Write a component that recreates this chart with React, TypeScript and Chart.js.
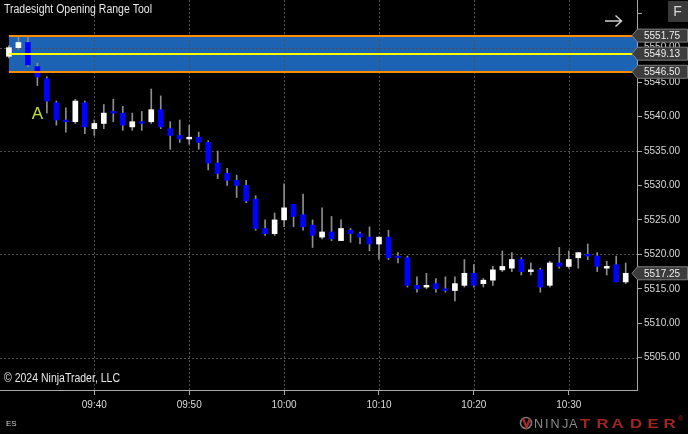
import React, { useEffect, useRef } from "react";
import { Chart, registerables } from "chart.js";
Chart.register(...registerables);

// ---------- data ----------
const times = [
  "09:31","09:32","09:33","09:34","09:35","09:36","09:37","09:38","09:39","09:40",
  "09:41","09:42","09:43","09:44","09:45","09:46","09:47","09:48","09:49","09:50",
  "09:51","09:52","09:53","09:54","09:55","09:56","09:57","09:58","09:59","10:00",
  "10:01","10:02","10:03","10:04","10:05","10:06","10:07","10:08","10:09","10:10",
  "10:11","10:12","10:13","10:14","10:15","10:16","10:17","10:18","10:19","10:20",
  "10:21","10:22","10:23","10:24","10:25","10:26","10:27","10:28","10:29","10:30",
  "10:31","10:32","10:33","10:34","10:35","10:36",
];
const opens = [
  5548.75,5550.0,5550.75,5547.25,5545.5,5542.0,5539.5,5539.25,5542.0,5538.25,
  5539.0,5540.75,5540.5,5538.5,5539.25,5539.25,5541.0,5538.25,5537.25,5536.75,
  5537.0,5536.25,5533.25,5531.75,5530.75,5530.0,5528.0,5523.75,5523.0,5525.0,
  5527.25,5525.75,5524.25,5522.5,5523.25,5522.0,5523.5,5523.0,5522.5,5521.5,
  5522.5,5519.75,5519.5,5515.5,5515.25,5515.75,5515.0,5514.75,5515.5,5517.25,
  5515.75,5516.25,5517.75,5518.0,5519.25,5517.5,5517.75,5515.5,5518.75,5518.25,
  5519.5,5520.0,5519.75,5518.0,5518.5,5516.0,
];
const highs = [
  5550.25,5551.75,5551.75,5547.75,5545.75,5542.25,5541.25,5542.5,5542.25,5539.5,
  5541.75,5542.5,5541.5,5540.5,5540.75,5544.0,5543.0,5539.25,5539.5,5538.75,
  5537.75,5536.5,5535.0,5532.5,5531.5,5530.75,5528.5,5525.0,5526.0,5530.25,
  5527.25,5528.75,5525.0,5526.75,5525.5,5525.0,5523.75,5523.25,5524.0,5522.5,
  5523.5,5520.25,5519.75,5516.75,5517.25,5516.5,5516.75,5516.75,5519.25,5518.5,
  5516.5,5518.25,5520.5,5520.25,5519.5,5518.75,5518.0,5519.0,5521.0,5520.5,
  5520.25,5521.5,5520.25,5519.0,5519.75,5518.75,
];
const lows = [
  5548.5,5549.75,5547.25,5544.5,5540.5,5538.75,5537.75,5539.0,5537.5,5537.25,
  5538.25,5539.25,5538.0,5538.0,5538.0,5539.0,5538.25,5535.25,5536.25,5536.0,
  5535.25,5532.25,5531.0,5530.0,5528.25,5527.5,5523.5,5522.75,5522.75,5524.0,
  5524.0,5523.5,5521.0,5522.25,5522.0,5522.0,5521.75,5521.5,5520.5,5519.25,
  5519.25,5518.75,5515.25,5514.5,5515.0,5514.5,5514.5,5513.25,5515.25,5515.25,
  5515.25,5515.5,5517.5,5517.5,5517.0,5517.0,5514.5,5515.25,5518.0,5518.0,
  5518.0,5519.25,5517.5,5517.0,5516.0,5515.75,
];
const closes = [
  5550.0,5550.75,5547.5,5545.75,5542.25,5539.5,5539.25,5542.25,5538.5,5539.0,
  5540.5,5540.5,5538.75,5539.25,5539.0,5541.0,5538.5,5537.25,5536.75,5537.0,
  5536.25,5533.25,5531.75,5530.75,5530.0,5527.75,5523.75,5523.0,5525.0,5526.75,
  5525.5,5524.0,5522.75,5523.25,5522.25,5523.75,5523.0,5522.5,5521.5,5522.5,
  5519.5,5519.5,5515.5,5515.0,5515.5,5515.0,5514.75,5515.75,5517.25,5515.5,
  5516.25,5517.75,5518.25,5519.25,5517.5,5517.75,5515.25,5518.75,5518.25,5519.25,
  5520.25,5519.75,5518.25,5518.25,5516.0,5517.25,
];
const timeTicks = ["09:40", "09:50", "10:00", "10:10", "10:20", "10:30"];
const priceTicks = [5505, 5510, 5515, 5520, 5525, 5530, 5535, 5540, 5545, 5550, 5555];
const priceLabels = ["5505.00","5510.00","5515.00","5520.00","5525.00","5530.00","5535.00","5540.00","5545.00","5550.00",""];
const gridPrices = [5505, 5520, 5535, 5550];
const rangeHigh = 5551.75;
const rangeMid = 5549.13;
const rangeLow = 5546.5;
const lastPrice = 5517.25;
const titleText = "Tradesight Opening Range Tool";
const copyrightText = "© 2024 NinjaTrader, LLC";
const instrumentText = "ES";
const markerLabel = "A";
const markerTime = "09:34";
const logoLeft = "NINJA";
const logoRight = "TRADER";

const toMin = (s: string) => {
  const [h, m] = s.split(":").map(Number);
  return h * 60 + m - 570;
};
const fmtMin = (v: number) => {
  const t = Math.round(v) + 570;
  const h = Math.floor(t / 60), m = t % 60;
  return String(h).padStart(2, "0") + ":" + String(m).padStart(2, "0");
};

const FONT = "'Liberation Sans', Arial, sans-serif";
const BLUE = "#0000ff";
const WHITE = "#ffffff";

function fitText(ctx: CanvasRenderingContext2D, text: string, x: number, y: number, width: number) {
  const w = ctx.measureText(text).width;
  ctx.save();
  ctx.translate(x, y);
  ctx.scale(width / w, 1);
  ctx.fillText(text, 0, 0);
  ctx.restore();
}

function priceBox(ctx: CanvasRenderingContext2D, axisX: number, yc: number, text: string, canvasW: number) {
  const h = 13;
  const tip = axisX - 5;
  const right = canvasW - 0.5;
  ctx.beginPath();
  ctx.moveTo(tip, yc);
  ctx.lineTo(axisX + 0.5, yc - h / 2);
  ctx.lineTo(right, yc - h / 2);
  ctx.lineTo(right, yc + h / 2);
  ctx.lineTo(axisX + 0.5, yc + h / 2);
  ctx.closePath();
  ctx.fillStyle = "#3c3c3c";
  ctx.fill();
  ctx.strokeStyle = "#7c7c7c";
  ctx.lineWidth = 1;
  ctx.stroke();
  ctx.fillStyle = "#ececec";
  ctx.font = `10px ${FONT}`;
  ctx.textAlign = "left";
  ctx.textBaseline = "middle";
  ctx.fillText(text, axisX + 7, yc + 0.5);
}

const overlayPlugin = {
  id: "overlay",
  beforeDatasetsDraw(chart: any) {
    const { ctx, chartArea: a, scales } = chart;
    const x = scales.x, y = scales.y;
    ctx.save();
    ctx.beginPath();
    ctx.rect(a.left, a.top, a.right - a.left, a.bottom - a.top);
    ctx.clip();
    // opening range band
    const bx = x.getPixelForValue(toMin(times[0]));
    const yt = y.getPixelForValue(rangeHigh);
    const yb = y.getPixelForValue(rangeLow);
    ctx.fillStyle = "#1c63b3";
    ctx.fillRect(bx, yt, a.right - bx, yb - yt);
    // dotted grid
    ctx.lineWidth = 1;
    ctx.setLineDash([2, 2]);
    ctx.strokeStyle = "#4e4e4e";
    for (const t of timeTicks) {
      const px = Math.round(x.getPixelForValue(toMin(t))) + 0.5;
      ctx.beginPath();
      ctx.moveTo(px, a.top);
      ctx.lineTo(px, a.bottom);
      ctx.stroke();
    }
    for (const p of gridPrices) {
      const py = Math.round(y.getPixelForValue(p)) + 0.5;
      ctx.beginPath();
      ctx.moveTo(a.left, py);
      ctx.lineTo(a.right, py);
      ctx.stroke();
    }
    ctx.restore();
  },
  afterDatasetsDraw(chart: any) {
    const { ctx, chartArea: a, scales } = chart;
    const x = scales.x, y = scales.y;
    const bx = x.getPixelForValue(toMin(times[0]));
    ctx.save();
    ctx.lineWidth = 2;
    const hl = (p: number, c: string) => {
      const py = Math.round(y.getPixelForValue(p));
      ctx.strokeStyle = c;
      ctx.beginPath();
      ctx.moveTo(bx, py);
      ctx.lineTo(a.right, py);
      ctx.stroke();
    };
    hl(rangeHigh, "#ff8c00");
    hl(rangeLow, "#ff8c00");
    hl(rangeMid, "#ffff00");
    // marker label
    const mi = times.indexOf(markerTime);
    ctx.fillStyle = "#c6de3a";
    ctx.font = `17px ${FONT}`;
    ctx.textAlign = "center";
    ctx.textBaseline = "middle";
    ctx.fillText(markerLabel, x.getPixelForValue(toMin(markerTime)), y.getPixelForValue(lows[mi]) + 29);
    ctx.restore();
  },
  afterDraw(chart: any) {
    const { ctx, chartArea: a, scales, width } = chart;
    const y = scales.y;
    ctx.save();
    priceBox(ctx, a.right, y.getPixelForValue(rangeHigh), rangeHigh.toFixed(2), width);
    priceBox(ctx, a.right, y.getPixelForValue(rangeMid), rangeMid.toFixed(2), width);
    priceBox(ctx, a.right, y.getPixelForValue(rangeLow), rangeLow.toFixed(2), width);
    priceBox(ctx, a.right, y.getPixelForValue(lastPrice), lastPrice.toFixed(2), width);

    // title
    ctx.fillStyle = "#e8e8e8";
    ctx.textAlign = "left";
    ctx.textBaseline = "middle";
    ctx.font = `12px ${FONT}`;
    fitText(ctx, titleText, 4, 10, 148);
    // copyright
    ctx.font = `12px ${FONT}`;
    fitText(ctx, copyrightText, 4, 379, 116);
    // instrument
    ctx.fillStyle = "#cfcfcf";
    ctx.font = `8px ${FONT}`;
    ctx.fillText(instrumentText, 6, 424);

    // F box
    ctx.fillStyle = "#3a3a3a";
    ctx.fillRect(668, 1, 20, 21);
    ctx.fillStyle = "#d6d6d6";
    ctx.font = `14px ${FONT}`;
    ctx.textAlign = "center";
    ctx.fillText("F", 677.5, 12);

    // arrow
    ctx.strokeStyle = "#cfcfcf";
    ctx.lineWidth = 1.5;
    ctx.beginPath();
    ctx.moveTo(605, 21);
    ctx.lineTo(622, 21);
    ctx.moveTo(615.5, 15.5);
    ctx.lineTo(621.5, 21);
    ctx.lineTo(615.5, 26.5);
    ctx.stroke();

    // NinjaTrader logo
    ctx.lineWidth = 1.6;
    ctx.strokeStyle = "#7a7a7a";
    ctx.beginPath();
    ctx.arc(526, 423, 5.5, 0, Math.PI * 2);
    ctx.stroke();
    ctx.strokeStyle = "#a52a2a";
    ctx.lineWidth = 2.2;
    ctx.beginPath();
    ctx.moveTo(523, 418.5);
    ctx.lineTo(526.5, 427.5);
    ctx.lineTo(530, 418.5);
    ctx.stroke();
    ctx.textAlign = "left";
    ctx.textBaseline = "alphabetic";
    ctx.font = `12px ${FONT}`;
    ctx.fillStyle = "#8a8a8a";
    const nx = [534, 545, 550.5, 562, 569];
    for (let i = 0; i < logoLeft.length; i++) {
      ctx.save();
      ctx.translate(nx[i], 428);
      ctx.scale(1.05, 1);
      ctx.fillText(logoLeft[i], 0, 0);
      ctx.restore();
    }
    ctx.fillStyle = "#a02424";
    ctx.font = `bold 12px ${FONT}`;
    const tx = [580, 596.5, 611.5, 630, 647.5, 663.5];
    for (let i = 0; i < logoRight.length; i++) {
      ctx.save();
      ctx.translate(tx[i], 428);
      ctx.scale(1.4, 1);
      ctx.fillText(logoRight[i], 0, 0);
      ctx.restore();
    }
    ctx.font = `7px ${FONT}`;
    ctx.fillText("®", 678, 421);
    ctx.restore();
  },
};

export default function App() {
  const ref = useRef<HTMLCanvasElement | null>(null);
  useEffect(() => {
    document.body.style.margin = "0";
    document.body.style.background = "#000";
    const canvas = ref.current!;
    const xs = times.map(toMin);
    const bodies = xs.map((t, i) => ({ x: t, y: [opens[i], closes[i]] }));
    const wicks = xs.map((t, i) => ({ x: t, y: [lows[i], highs[i]] }));
    const bodyColors = closes.map((c, i) => (c >= opens[i] ? WHITE : BLUE));
    const chart = new Chart(canvas, {
      type: "bar",
      data: {
        datasets: [
          {
            data: bodies as any,
            backgroundColor: bodyColors,
            barThickness: 5,
            minBarLength: 1,
            grouped: false,
            order: 0,
          } as any,
          {
            data: wicks as any,
            backgroundColor: "#8e8e8e",
            barThickness: 1,
            grouped: false,
            order: 1,
          } as any,
        ],
      },
      plugins: [overlayPlugin],
      options: {
        animation: false,
        responsive: false,
        maintainAspectRatio: false,
        devicePixelRatio: 1,
        layout: { padding: 0 },
        plugins: { legend: { display: false }, tooltip: { enabled: false } },
        scales: {
          x: {
            type: "linear",
            position: "bottom",
            min: 0.06,
            max: 67.19,
            offset: false,
            grid: { offset: false, drawOnChartArea: false, drawTicks: true, tickLength: 5, tickColor: "#a8a8a8" },
            border: { display: true, color: "#a8a8a8", width: 1 },
            afterBuildTicks: (s: any) => {
              s.ticks = timeTicks.map((t) => ({ value: toMin(t) }));
            },
            afterFit: (s: any) => {
              s.height = 44;
              s.paddingLeft = 0;
              s.paddingRight = 0;
            },
            ticks: {
              autoSkip: false,
              maxRotation: 0,
              padding: 4,
              color: "#d9d9d9",
              font: { family: FONT, size: 10 },
              callback: (v: any) => fmtMin(Number(v)),
            },
          },
          y: {
            type: "linear",
            position: "right",
            min: 5500.31,
            max: 5556.92,
            beginAtZero: false,
            grid: { drawOnChartArea: false, drawTicks: true, tickLength: 5, tickColor: "#a8a8a8" },
            border: { display: true, color: "#a8a8a8", width: 1 },
            afterBuildTicks: (s: any) => {
              s.ticks = priceTicks.map((p) => ({ value: p }));
            },
            afterFit: (s: any) => {
              s.width = 51;
              s.paddingTop = 0;
              s.paddingBottom = 0;
            },
            ticks: {
              autoSkip: false,
              padding: 2,
              color: "#d9d9d9",
              font: { family: FONT, size: 10 },
              callback: (v: any) => {
                const i = priceTicks.indexOf(Number(v));
                return i >= 0 ? priceLabels[i] : "";
              },
            },
          },
        },
      } as any,
    });
    return () => chart.destroy();
  }, []);
  return (
    <div style={{ position: "absolute", left: 0, top: 0, width: 688, height: 434, background: "#000" }}>
      <canvas ref={ref} width={688} height={434} style={{ display: "block" }} />
    </div>
  );
}
